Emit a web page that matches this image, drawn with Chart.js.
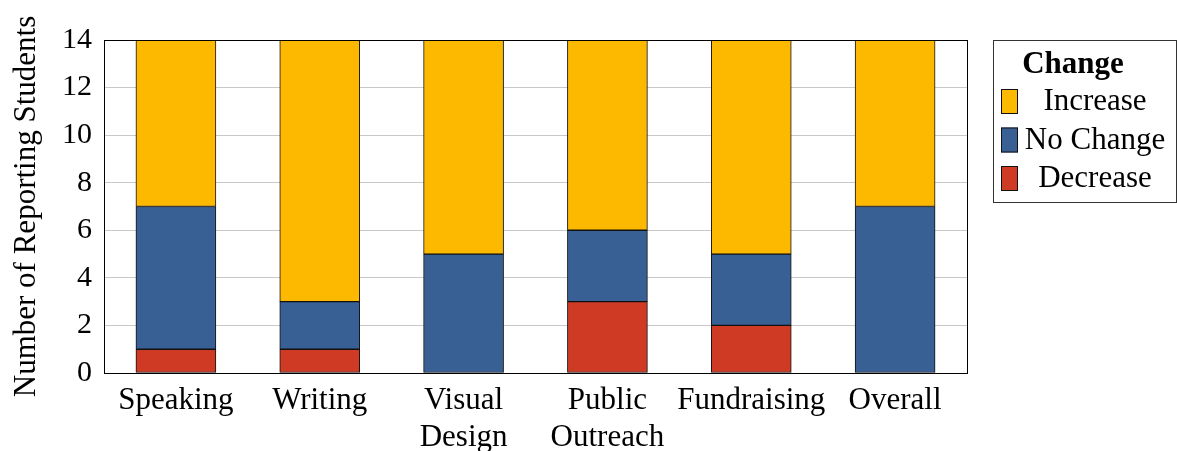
<!DOCTYPE html>
<html>
<head>
<meta charset="utf-8">
<script src="https://cdn.jsdelivr.net/npm/chart.js@4"></script>
<style>
  html, body { margin: 0; padding: 0; background: #fff; }
  #wrap { width: 1177px; height: 451px; }
</style>
</head>
<body>
<div id="wrap"><canvas id="chart" width="1177" height="451"></canvas></div>
<script>
const categories = ["Speaking", "Writing", ["Visual", "Design"], ["Public", "Outreach"], "Fundraising", "Overall"];
const decrease = [1, 1, 0, 3, 2, 0];
const noChange = [6, 2, 5, 3, 3, 7];
const increase = [7, 11, 9, 8, 9, 7];
const yTicks = [0, 2, 4, 6, 8, 10, 12, 14];
const legendTitle = "Change";

const serif = "'Liberation Serif', 'Times New Roman', serif";

// frame round the plot area, plus a boxed legend on the right
const framePlugin = {
    id: 'frame',
    afterDraw(chart) {
        const ctx = chart.ctx;
        const a = chart.chartArea;
        ctx.save();
        ctx.strokeStyle = '#000';
        ctx.lineWidth = 1;
        ctx.strokeRect(a.left + 0.5, a.top + 0.5, a.right - a.left, a.bottom - a.top);

        const lx = a.right + 26, ly = a.top, lw = 1176 - lx, lh = 162;
        ctx.strokeStyle = '#333';
        ctx.strokeRect(lx + 0.5, ly + 0.5, lw, lh);

        ctx.fillStyle = '#000';
        ctx.textAlign = 'center';
        ctx.textBaseline = 'middle';
        ctx.font = 'bold 31px ' + serif;
        ctx.fillText(legendTitle, lx + 80, ly + 25);

        ctx.font = '31px ' + serif;
        const sets = chart.data.datasets.slice().reverse();
        sets.forEach((d, i) => {
            const cy = ly + 62 + i * 38.5;
            ctx.fillStyle = d.backgroundColor;
            ctx.fillRect(lx + 8, cy - 13, 17, 25);
            ctx.strokeStyle = '#111';
            ctx.strokeRect(lx + 8.5, cy - 12.5, 16, 24);
            ctx.fillStyle = '#000';
            ctx.fillText(d.label, lx + 102, cy);
        });
        ctx.restore();
    }
};

const ds = (label, data, color) => ({
    label: label,
    data: data,
    backgroundColor: color,
    borderColor: '#111',
    borderWidth: 1,
    borderSkipped: false,
    barThickness: 80
});

new Chart(document.getElementById('chart'), {
    type: 'bar',
    data: {
        labels: categories,
        datasets: [
            ds('Decrease', decrease, '#cf3a24'),
            ds('No Change', noChange, '#386094'),
            ds('Increase', increase, '#fdb900')
        ]
    },
    options: {
        responsive: false,
        animation: false,
        layout: { padding: { top: 40, right: 210, left: 0, bottom: 0 } },
        plugins: {
            tooltip: { enabled: false },
            legend: { display: false }
        },
        scales: {
            x: {
                stacked: true,
                grid: { display: false },
                border: { color: '#000' },
                afterFit: axis => { axis.height = 78; },
                ticks: { color: '#000', font: { family: serif, size: 31, lineHeight: 1.2 }, maxRotation: 0, autoSkip: false, padding: 1 }
            },
            y: {
                stacked: true,
                min: 0,
                max: 14,
                afterBuildTicks: axis => { axis.ticks = yTicks.map(v => ({ value: v })); },
                afterFit: axis => { axis.width = 104; },
                grid: { color: '#c8c8c8', tickLength: 0 },
                border: { color: '#000' },
                ticks: { color: '#000', font: { family: serif, size: 30 }, padding: 12 },
                title: {
                    display: true,
                    text: 'Number of Reporting Students',
                    color: '#000',
                    font: { family: serif, size: 31 },
                    padding: { top: 8, bottom: 0 }
                }
            }
        }
    },
    plugins: [framePlugin]
});
</script>
</body>
</html>
